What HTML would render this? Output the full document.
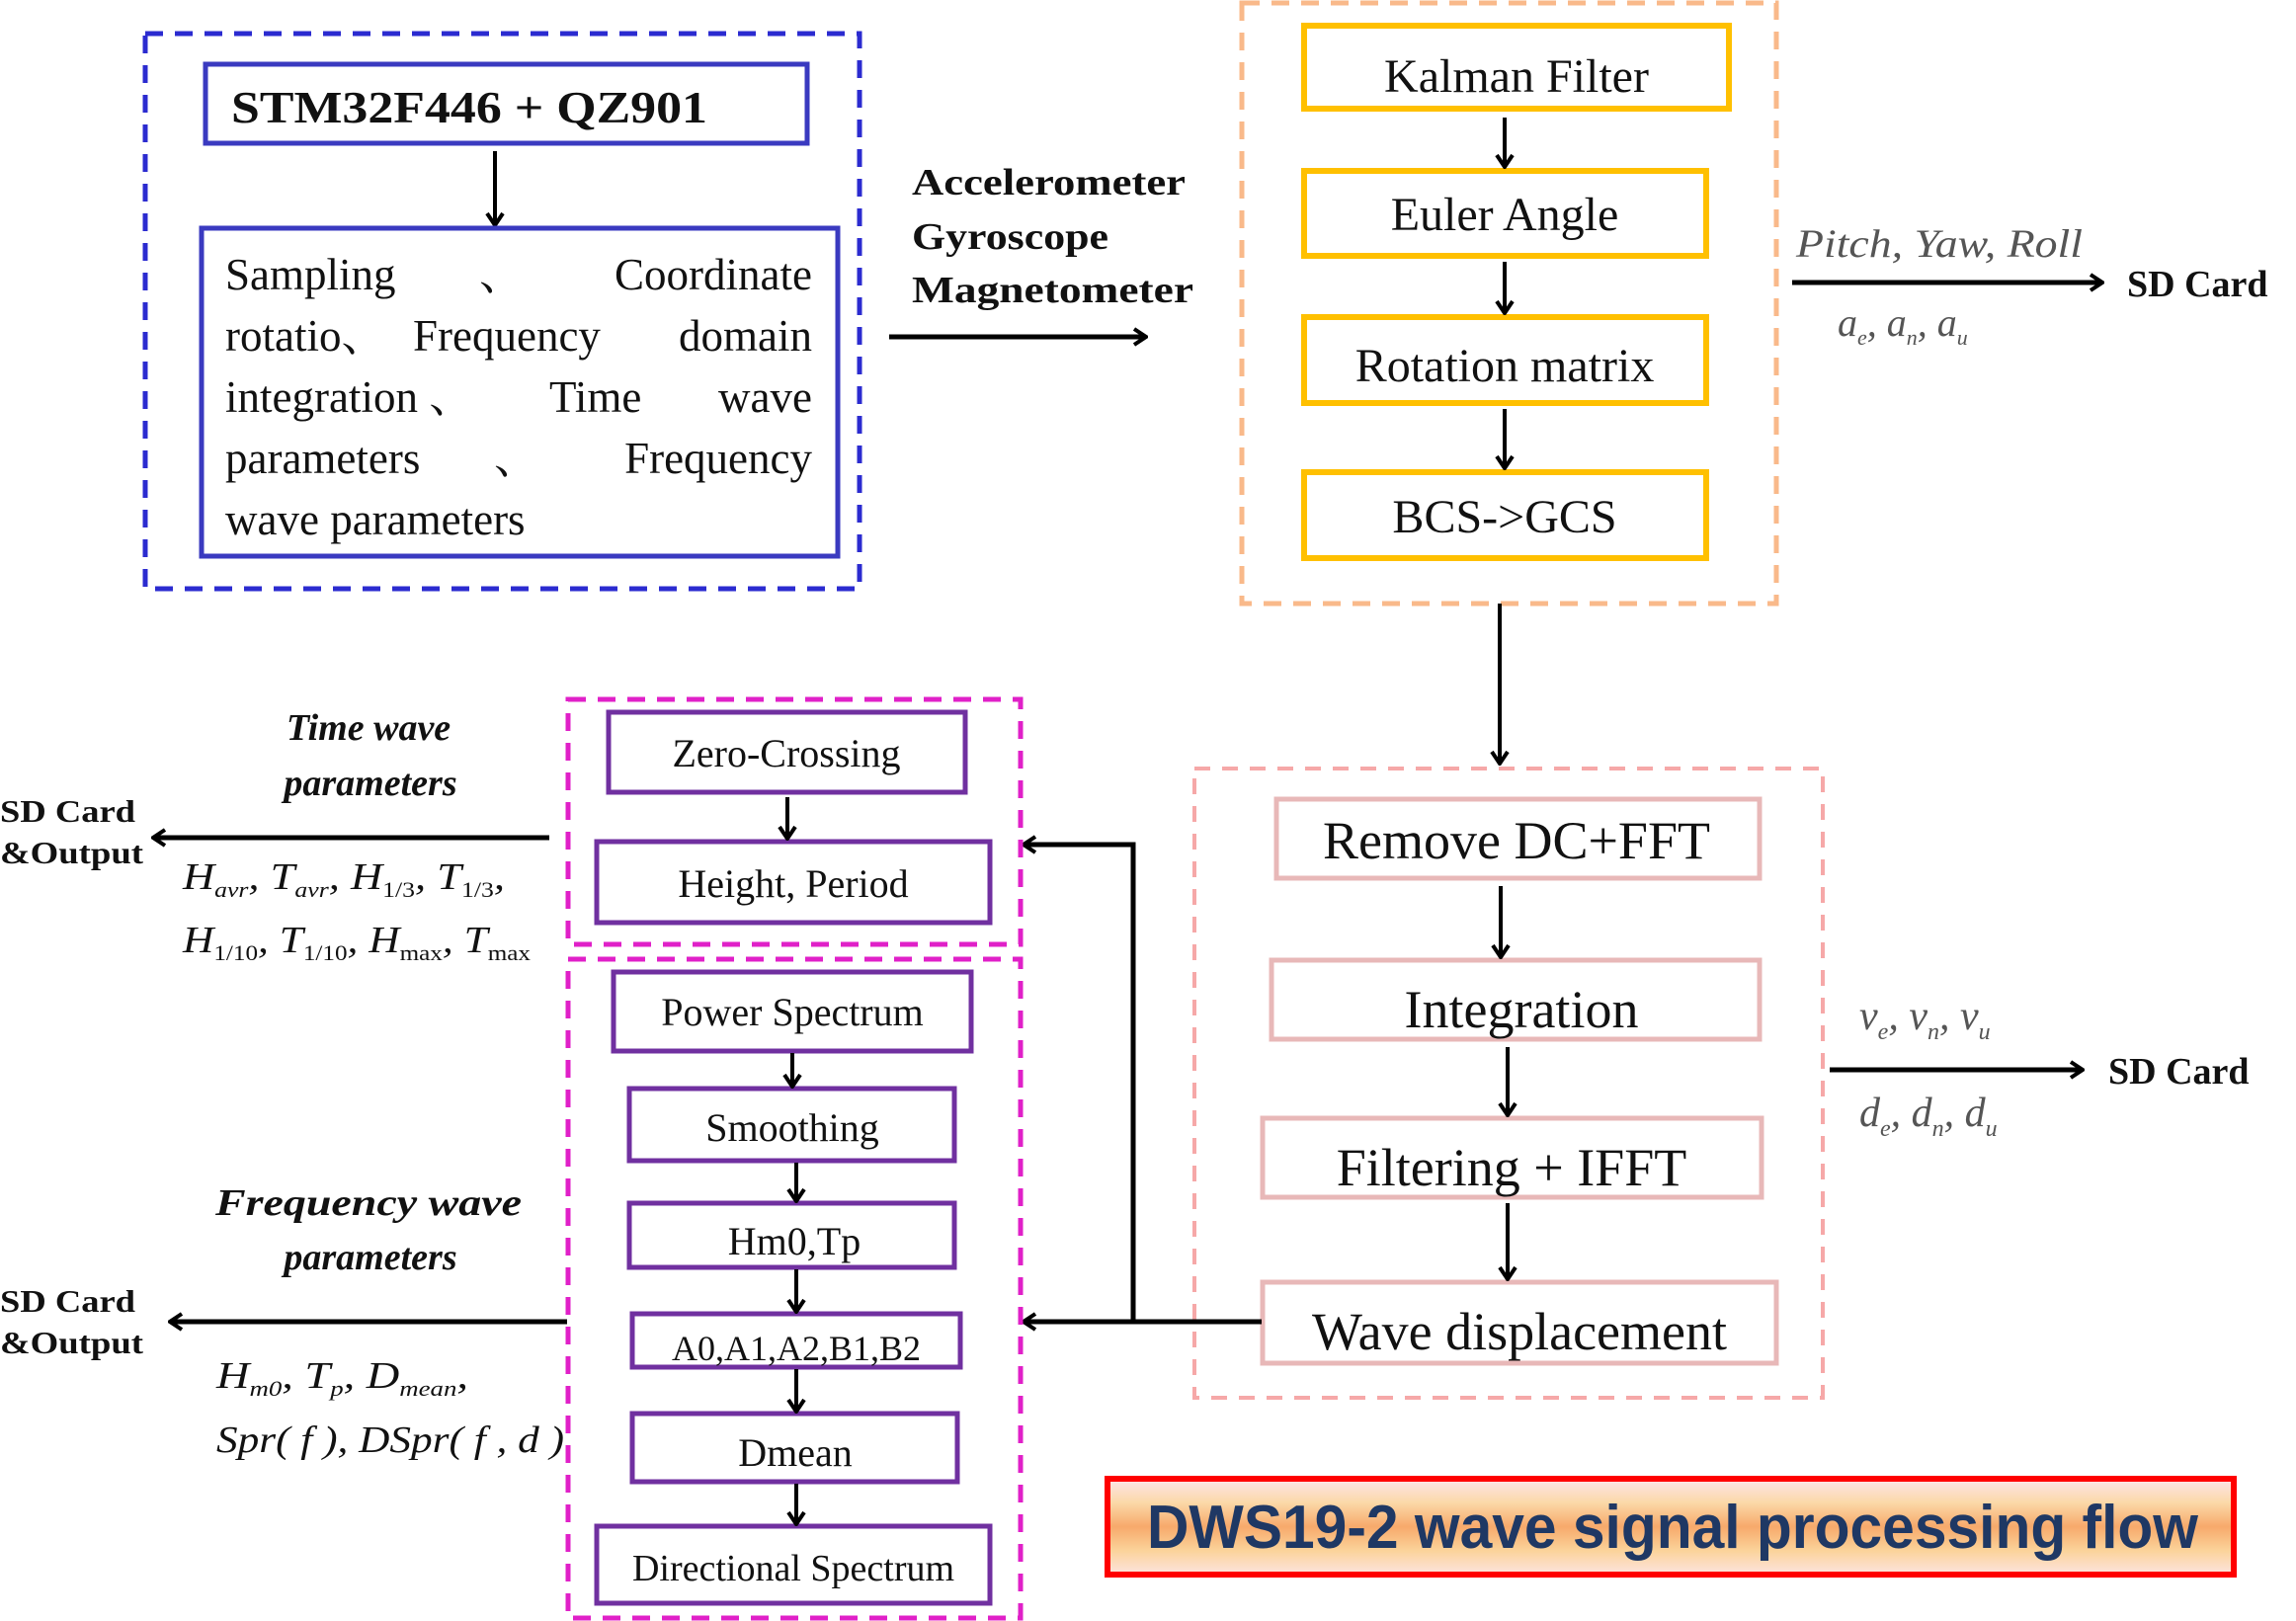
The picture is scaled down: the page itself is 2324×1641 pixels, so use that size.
<!DOCTYPE html>
<html><head><meta charset="utf-8">
<style>
html,body{margin:0;padding:0;background:#fff;}
svg{display:block;}
text{font-family:"Liberation Serif","Noto Serif CJK SC","Noto Sans CJK SC",serif;fill:#111;}
.sans{font-family:"Liberation Sans",sans-serif;}
.b{font-weight:bold;}
.it{font-style:italic;}
.g{fill:#555;}
</style></head>
<body>
<svg width="2324" height="1641" viewBox="0 0 2324 1641" xmlns="http://www.w3.org/2000/svg">
<defs>
<marker id="ah" viewBox="0 0 20 20" refX="18" refY="10" markerWidth="20" markerHeight="20" markerUnits="userSpaceOnUse" orient="auto">
<polyline points="6,2 18,10 6,18" fill="none" stroke="#000" stroke-width="4"/>
</marker>
<linearGradient id="tg" x1="0" y1="0" x2="0" y2="1">
<stop offset="0" stop-color="#fde4ea"/>
<stop offset="0.25" stop-color="#fbd9a8"/>
<stop offset="0.5" stop-color="#f7a96b"/>
<stop offset="0.75" stop-color="#fbd39a"/>
<stop offset="1" stop-color="#fde4e0"/>
</linearGradient>
</defs>

<!-- Blue group -->
<rect x="147" y="34" width="723" height="562" fill="none" stroke="#2b2bd0" stroke-width="5" stroke-dasharray="18,12"/>
<rect x="208" y="65" width="609" height="80" fill="none" stroke="#3a3ac0" stroke-width="5"/>
<text x="234" y="124" font-size="46" class="b" textLength="482" lengthAdjust="spacingAndGlyphs">STM32F446 + QZ901</text>
<line x1="501" y1="153" x2="501" y2="228" stroke="#000" stroke-width="4" marker-end="url(#ah)"/>
<rect x="204" y="231" width="644" height="332" fill="none" stroke="#3a3ac0" stroke-width="5"/>
<g font-size="45">
<text x="228" y="293">Sampling</text><text x="485" y="293">、</text><text x="822" y="293" text-anchor="end">Coordinate</text>
<text x="228" y="355">rotatio、</text><text x="418" y="355">Frequency</text><text x="822" y="355" text-anchor="end">domain</text>
<text x="228" y="417">integration 、</text><text x="556" y="417">Time</text><text x="822" y="417" text-anchor="end">wave</text>
<text x="228" y="479">parameters</text><text x="500" y="479">、</text><text x="822" y="479" text-anchor="end">Frequency</text>
<text x="228" y="541">wave parameters</text>
</g>

<!-- sensors -->
<g font-size="38" class="b">
<text x="923" y="197" textLength="277" lengthAdjust="spacingAndGlyphs">Accelerometer</text>
<text x="923" y="252" textLength="199" lengthAdjust="spacingAndGlyphs">Gyroscope</text>
<text x="923" y="306" textLength="285" lengthAdjust="spacingAndGlyphs">Magnetometer</text>
</g>
<line x1="900" y1="341" x2="1160" y2="341" stroke="#000" stroke-width="5" marker-end="url(#ah)"/>

<!-- Orange group -->
<rect x="1257" y="3" width="541" height="608" fill="none" stroke="#f9b98a" stroke-width="5" stroke-dasharray="18,12"/>
<g fill="none" stroke="#ffc000" stroke-width="6">
<rect x="1320" y="26" width="430" height="84"/>
<rect x="1320" y="173" width="407" height="86"/>
<rect x="1320" y="321" width="407" height="87"/>
<rect x="1320" y="478" width="407" height="87"/>
</g>
<g font-size="48" text-anchor="middle">
<text x="1535" y="93">Kalman Filter</text>
<text x="1523" y="233">Euler Angle</text>
<text x="1523" y="386">Rotation matrix</text>
<text x="1523" y="539">BCS-&gt;GCS</text>
</g>
<g stroke="#000" stroke-width="4">
<line x1="1523" y1="119" x2="1523" y2="169" marker-end="url(#ah)"/>
<line x1="1523" y1="265" x2="1523" y2="317" marker-end="url(#ah)"/>
<line x1="1523" y1="414" x2="1523" y2="474" marker-end="url(#ah)"/>
<line x1="1518" y1="611" x2="1518" y2="773" marker-end="url(#ah)"/>
</g>
<text x="1818" y="260" font-size="40" class="it g" textLength="290" lengthAdjust="spacingAndGlyphs">Pitch, Yaw, Roll</text>
<line x1="1814" y1="286" x2="2128" y2="286" stroke="#000" stroke-width="5" marker-end="url(#ah)"/>
<text x="2153" y="300" font-size="38" class="b">SD Card</text>
<text x="1860" y="340" font-size="40" class="it g">a<tspan font-size="22" dy="9">e</tspan><tspan dy="-9">, a</tspan><tspan font-size="22" dy="9">n</tspan><tspan dy="-9">, a</tspan><tspan font-size="22" dy="9">u</tspan></text>

<!-- Pink group -->
<rect x="1209" y="778" width="636" height="637" fill="none" stroke="#f6a8a8" stroke-width="4" stroke-dasharray="16,12"/>
<g fill="none" stroke="#e8b8b8" stroke-width="5">
<rect x="1292" y="809" width="489" height="80"/>
<rect x="1287" y="972" width="494" height="80"/>
<rect x="1278" y="1132" width="505" height="80"/>
<rect x="1278" y="1298" width="520" height="82"/>
</g>
<g font-size="54" text-anchor="middle">
<text x="1535" y="869">Remove DC+FFT</text>
<text x="1540" y="1040">Integration</text>
<text x="1530" y="1200">Filtering + IFFT</text>
<text x="1538" y="1366">Wave displacement</text>
</g>
<g stroke="#000" stroke-width="4">
<line x1="1519" y1="897" x2="1519" y2="969" marker-end="url(#ah)"/>
<line x1="1526" y1="1060" x2="1526" y2="1129" marker-end="url(#ah)"/>
<line x1="1526" y1="1218" x2="1526" y2="1295" marker-end="url(#ah)"/>
</g>
<text x="1882" y="1042" font-size="42" class="it g">v<tspan font-size="24" dy="10">e</tspan><tspan dy="-10">, v</tspan><tspan font-size="24" dy="10">n</tspan><tspan dy="-10">, v</tspan><tspan font-size="24" dy="10">u</tspan></text>
<line x1="1852" y1="1083" x2="2108" y2="1083" stroke="#000" stroke-width="5" marker-end="url(#ah)"/>
<text x="2134" y="1097" font-size="38" class="b">SD Card</text>
<text x="1882" y="1140" font-size="42" class="it g">d<tspan font-size="24" dy="10">e</tspan><tspan dy="-10">, d</tspan><tspan font-size="24" dy="10">n</tspan><tspan dy="-10">, d</tspan><tspan font-size="24" dy="10">u</tspan></text>

<!-- connectors to magenta -->
<g stroke="#000" stroke-width="5" fill="none">
<polyline points="1277,1338 1147,1338 1147,855 1036,855" marker-end="url(#ah)"/>
<line x1="1147" y1="1338" x2="1036" y2="1338" marker-end="url(#ah)"/>
</g>

<!-- Magenta groups -->
<rect x="575" y="708" width="458" height="248" fill="none" stroke="#e020c8" stroke-width="5" stroke-dasharray="18,12"/>
<rect x="575" y="971" width="458" height="667" fill="none" stroke="#e020c8" stroke-width="5" stroke-dasharray="18,12"/>
<g fill="none" stroke="#7030a0" stroke-width="5">
<rect x="616" y="721" width="361" height="81"/>
<rect x="604" y="852" width="398" height="82"/>
<rect x="621" y="984" width="362" height="80"/>
<rect x="637" y="1102" width="329" height="73"/>
<rect x="637" y="1218" width="329" height="65"/>
<rect x="640" y="1330" width="332" height="54"/>
<rect x="640" y="1431" width="329" height="69"/>
<rect x="604" y="1545" width="398" height="78"/>
</g>
<g font-size="40" text-anchor="middle">
<text x="796" y="776">Zero-Crossing</text>
<text x="803" y="908">Height, Period</text>
<text x="802" y="1038">Power Spectrum</text>
<text x="802" y="1155">Smoothing</text>
<text x="804" y="1270">Hm0,Tp</text>
<text x="806" y="1377" font-size="36">A0,A1,A2,B1,B2</text>
<text x="805" y="1484">Dmean</text>
<text x="803" y="1600" font-size="38">Directional Spectrum</text>
</g>
<g stroke="#000" stroke-width="4">
<line x1="797" y1="807" x2="797" y2="849" marker-end="url(#ah)"/>
<line x1="802" y1="1066" x2="802" y2="1100" marker-end="url(#ah)"/>
<line x1="806" y1="1177" x2="806" y2="1216" marker-end="url(#ah)"/>
<line x1="806" y1="1285" x2="806" y2="1328" marker-end="url(#ah)"/>
<line x1="806" y1="1386" x2="806" y2="1429" marker-end="url(#ah)"/>
<line x1="806" y1="1502" x2="806" y2="1543" marker-end="url(#ah)"/>
</g>

<!-- Left outputs -->
<g font-size="38" class="b it" text-anchor="middle">
<text x="373" y="749">Time wave</text>
<text x="375" y="805">parameters</text>
<text x="373" y="1230" textLength="310" lengthAdjust="spacingAndGlyphs">Frequency wave</text>
<text x="375" y="1285">parameters</text>
</g>
<g stroke="#000" stroke-width="5">
<line x1="556" y1="848" x2="155" y2="848" marker-end="url(#ah)"/>
<line x1="574" y1="1338" x2="172" y2="1338" marker-end="url(#ah)"/>
</g>
<g font-size="32" class="b">
<text x="0" y="832" textLength="137" lengthAdjust="spacingAndGlyphs">SD Card</text>
<text x="0" y="874" textLength="145" lengthAdjust="spacingAndGlyphs">&amp;Output</text>
<text x="0" y="1328" textLength="137" lengthAdjust="spacingAndGlyphs">SD Card</text>
<text x="0" y="1370" textLength="145" lengthAdjust="spacingAndGlyphs">&amp;Output</text>
</g>
<g font-size="38" class="it g">
<text x="185" y="900" textLength="326" lengthAdjust="spacingAndGlyphs">H<tspan font-size="22" dy="8">avr</tspan><tspan dy="-8">, T</tspan><tspan font-size="22" dy="8">avr</tspan><tspan dy="-8">, H</tspan><tspan font-size="22" dy="8" font-style="normal">1/3</tspan><tspan dy="-8">, T</tspan><tspan font-size="22" dy="8" font-style="normal">1/3</tspan><tspan dy="-8">,</tspan></text>
<text x="185" y="964" textLength="352" lengthAdjust="spacingAndGlyphs">H<tspan font-size="22" dy="8" font-style="normal">1/10</tspan><tspan dy="-8">, T</tspan><tspan font-size="22" dy="8" font-style="normal">1/10</tspan><tspan dy="-8">, H</tspan><tspan font-size="22" dy="8" font-style="normal">max</tspan><tspan dy="-8">, T</tspan><tspan font-size="22" dy="8" font-style="normal">max</tspan></text>
<text x="219" y="1405" textLength="255" lengthAdjust="spacingAndGlyphs">H<tspan font-size="22" dy="8">m0</tspan><tspan dy="-8">, T</tspan><tspan font-size="22" dy="8">p</tspan><tspan dy="-8">, D</tspan><tspan font-size="22" dy="8">mean</tspan><tspan dy="-8">,</tspan></text>
<text x="219" y="1470" textLength="352" lengthAdjust="spacingAndGlyphs">Spr( f ), DSpr( f , d )</text>
</g>

<!-- Title -->
<rect x="1121" y="1497" width="1140" height="97" fill="url(#tg)" stroke="#ff0000" stroke-width="6"/>
<text x="1161" y="1567" font-size="62" class="sans b" style="fill:#1f3864" textLength="1064" lengthAdjust="spacingAndGlyphs">DWS19-2 wave signal processing flow</text>
</svg>
</body></html>
